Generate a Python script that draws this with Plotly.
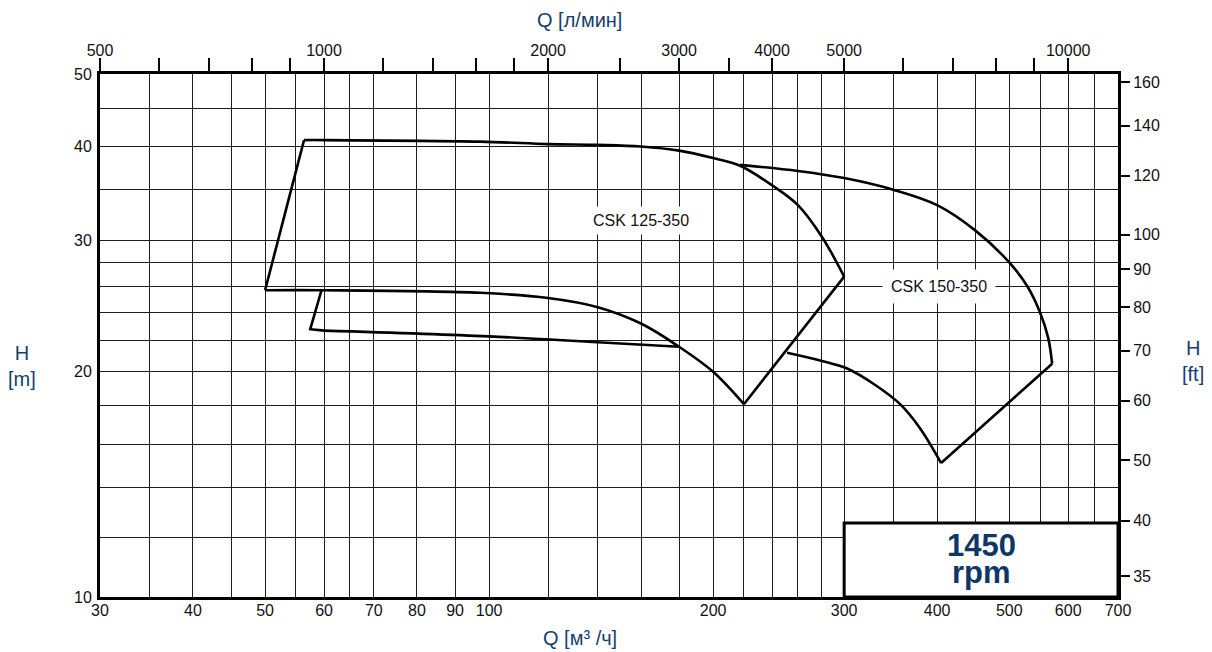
import math
import plotly.graph_objects as go

# ---------------- data (Q in m3/h, H in m) ----------------
q_125_max = [56.4, 60, 97.3, 120, 140, 160, 180, 200, 217.4, 240, 260, 280, 300]
h_125_max = [40.8, 40.8, 40.6, 40.3, 40.2, 40.0, 39.5, 38.6, 37.7, 35.5, 33.4, 30.3, 26.8]

q_125_min = [50, 60, 97.3, 120, 140, 160, 180, 200, 220]
h_125_min = [25.7, 25.7, 25.5, 25.1, 24.4, 23.2, 21.6, 20.0, 18.1]

q_125_small = [59.6, 57.5, 60, 100, 140, 180]
h_125_small = [25.8, 22.8, 22.7, 22.3, 21.9, 21.6]

q_150_max = [217.4, 260, 300, 350, 400, 450, 500, 529, 550, 564, 571]
h_150_max = [37.8, 37.1, 36.3, 35.0, 33.4, 30.9, 28.0, 26.0, 24.0, 22.2, 20.5]

q_150_min = [251.4, 278.6, 302.8, 330.3, 356.7, 379.5, 405]
h_150_min = [21.2, 20.7, 20.2, 19.2, 18.1, 16.8, 15.1]

label_125 = ("CSK 125-350", 160, 31.9)
label_150 = ("CSK 150-350", 402.7, 26.0)

# axes
Q_MIN, Q_MAX = 30, 700
H_MIN, H_MAX = 10, 50
x_grid = [30, 35, 40, 45, 50, 55, 60, 65, 70, 80, 90, 100, 120, 140, 160, 180, 200,
          220, 240, 260, 280, 300, 350, 400, 450, 500, 550, 600, 650, 700]
x_labels = [30, 40, 50, 60, 70, 80, 90, 100, 200, 300, 400, 500, 600, 700]
y_grid = [10, 12, 14, 16, 18, 20, 22, 24, 26, 28, 30, 35, 40, 45, 50]
y_labels = [10, 20, 30, 40, 50]
top_ticks = [500, 600, 700, 800, 900, 1000, 1200, 1400, 1600, 1800, 2000, 2500, 3000,
             3500, 4000, 5000, 6000, 7000, 8000, 9000, 10000]
top_labels = [500, 1000, 2000, 3000, 4000, 5000, 10000]
right_ticks = [35, 41.5, 50, 60, 70, 80, 90, 100, 120, 140, 160]
right_text = ["35", "40", "50", "60", "70", "80", "90", "100", "120", "140", "160"]

box_q0 = 300
box_h1 = 12.56

LPM = 1000 / 60.0
FT = 0.3048
NAVY = "#173f6e"
FONT = "Liberation Sans, Arial, sans-serif"

fig = go.Figure()

def add_line(xs, ys, smooth=False):
    fig.add_trace(go.Scatter(
        x=xs, y=ys, mode="lines",
        line=dict(color="black", width=2.6, shape="spline" if smooth else "linear",
                  smoothing=1.0 if smooth else None),
        hoverinfo="skip", showlegend=False))

# CSK 125-350 envelope
add_line([q_125_min[0], q_125_max[0]], [h_125_min[0], h_125_max[0]])
add_line(q_125_max, h_125_max, smooth=True)
add_line([q_125_max[-1], q_125_min[-1]], [h_125_max[-1], h_125_min[-1]])
add_line(q_125_min, h_125_min, smooth=True)
# inner reduced-impeller region
add_line(q_125_small[:3], h_125_small[:3])
add_line(q_125_small[2:], h_125_small[2:], smooth=True)
# CSK 150-350 envelope
add_line(q_150_max, h_150_max, smooth=True)
add_line([q_150_max[-1], q_150_min[-1]], [h_150_max[-1], h_150_min[-1]])
add_line(q_150_min, h_150_min, smooth=True)

# invisible trace on secondary axes
fig.add_trace(go.Scatter(x=[q * LPM for q in q_125_max], y=[h / FT for h in h_125_max],
                         xaxis="x2", yaxis="y2", mode="lines",
                         line=dict(width=0, color="rgba(0,0,0,0)"),
                         hoverinfo="skip", showlegend=False))

tickfont = dict(family=FONT, size=16, color="#111")
GRID = "#1c1c1c"

fig.update_layout(
    width=1204, height=644,
    margin=dict(l=92, r=94, t=66, b=55, autoexpand=False),
    paper_bgcolor="white", plot_bgcolor="white",
    xaxis=dict(type="log", range=[math.log10(Q_MIN), math.log10(Q_MAX)],
               tickvals=x_grid,
               ticktext=[str(v) if v in x_labels else "" for v in x_grid],
               showgrid=True, gridcolor=GRID, gridwidth=1.4,
               ticks="", showline=True, linecolor="black", linewidth=3,
               tickfont=tickfont, ticklabelstandoff=-3, zeroline=False),
    yaxis=dict(type="log", range=[math.log10(H_MIN), math.log10(H_MAX)],
               tickvals=y_grid,
               ticktext=[str(v) if v in y_labels else "" for v in y_grid],
               showgrid=True, gridcolor=GRID, gridwidth=1.4,
               ticks="", showline=True, linecolor="black", linewidth=3,
               tickfont=tickfont, ticklabelstandoff=2, zeroline=False),
    xaxis2=dict(type="log", overlaying="x", side="top",
                range=[math.log10(Q_MIN * LPM), math.log10(Q_MAX * LPM)],
                tickvals=top_ticks,
                ticktext=[str(v) if v in top_labels else "" for v in top_ticks],
                ticks="outside", ticklen=13, tickwidth=1.5, tickcolor="black",
                showgrid=False, showline=True, linecolor="black", linewidth=3,
                tickfont=tickfont, ticklabelstandoff=-4, zeroline=False),
    yaxis2=dict(type="log", overlaying="y", side="right",
                range=[math.log10(H_MIN / FT), math.log10(H_MAX / FT)],
                tickvals=right_ticks, ticktext=right_text,
                ticks="outside", ticklen=9, tickwidth=1.5, tickcolor="black",
                showgrid=False, showline=True, linecolor="black", linewidth=3,
                tickfont=tickfont, zeroline=False),
)

# speed box
x_frac = (math.log10(box_q0) - math.log10(Q_MIN)) / (math.log10(Q_MAX) - math.log10(Q_MIN))
y_frac = (math.log10(box_h1) - math.log10(H_MIN)) / (math.log10(H_MAX) - math.log10(H_MIN))
fig.add_shape(type="rect", xref="paper", yref="paper", x0=x_frac, x1=1.0, y0=0, y1=y_frac,
              fillcolor="white", line=dict(color="black", width=3), layer="above")

ann = []
for (txt, q, h), pad in ((label_125, 5), (label_150, 8)):
    ann.append(dict(x=math.log10(q), y=math.log10(h), xref="x", yref="y", text=txt,
                    showarrow=False, bgcolor="white", borderpad=pad,
                    xanchor="center", yanchor="middle",
                    font=dict(family=FONT, size=16, color="#111")))
xc = (x_frac + 1.0) / 2
speed_font = dict(family=FONT, size=31, color="#0f3766")
ann.append(dict(x=xc, y=0.0994, xref="paper", yref="paper", text="<b>1450</b>",
                xanchor="center", yanchor="middle", showarrow=False, font=speed_font))
ann.append(dict(x=xc, y=0.0478, xref="paper", yref="paper", text="<b>rpm</b>",
                xanchor="center", yanchor="middle", showarrow=False, font=speed_font))
tfont = dict(family=FONT, size=20, color=NAVY)
for txt, xp, yp in (("Q [л/мин]", 0.4715, 1.103), ("Q [м³ /ч]", 0.4715, -0.078),
                    ("H<br>[m]", -0.0766, 0.4417), ("H<br>[ft]", 1.0737, 0.452)):
    ann.append(dict(x=xp, y=yp, xref="paper", yref="paper", text=txt,
                    xanchor="center", yanchor="middle", showarrow=False, font=tfont))
fig.update_layout(annotations=ann)

fig.write_html("out.html")
